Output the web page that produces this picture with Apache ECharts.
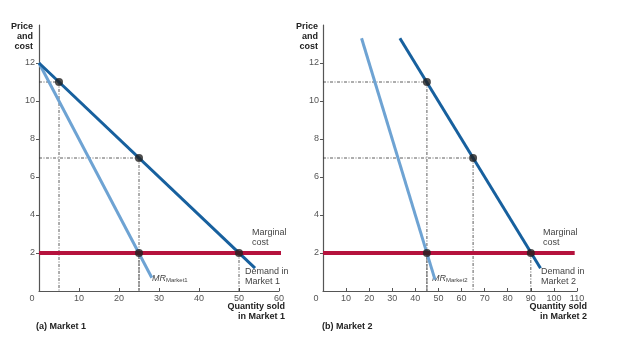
<!DOCTYPE html>
<html><head><meta charset="utf-8">
<script src="https://cdn.jsdelivr.net/npm/echarts@6/dist/echarts.min.js"></script>
<style>html,body{margin:0;padding:0;background:#fff}#c{width:624px;height:356px}</style>
</head><body><div id="c"></div>
<script>
// ---- data ----
const yTicks = [2, 4, 6, 8, 10, 12];
const x1Ticks = [0, 10, 20, 30, 40, 50, 60];
const x2Ticks = [0, 10, 20, 30, 40, 50, 60, 70, 80, 90, 100, 110];
const mcPrice = 2;
// Market 1
const demand1Q = [0, 54];
const demand1P = [12, 1.2];
const mr1Q = [0, 28.2];
const mr1P = [12, 0.7];
const mc1Q = [0, 61];
const eq1Q = [5, 25, 25, 50];
const eq1P = [11, 7, 2, 2];
// Market 2
const demand2Q = [33.3, 94.2];
const demand2P = [13.3, 1.2];
const mr2Q = [16.7, 48.5];
const mr2P = [13.3, 0.6];
const mc2Q = [0, 109];
const eq2Q = [45, 65, 45, 90];
const eq2P = [11, 7, 2, 2];

const FONT = '"Liberation Sans", Arial, sans-serif';
const C_DEM = '#17609e', C_MR = '#6ea3d3', C_MC = '#b5123d';

function pairs(q, p) { return q.map((v, i) => [v, p[i]]); }

function guides(q, p, gi) {
  const out = [];
  q.forEach((x, i) => {
    const y = p[i];
    out.push(mkGuide([[x, y], [x, 0]], gi));
    if (y > mcPrice) out.push(mkGuide([[0, y], [x, y]], gi));
  });
  return out;
}
function mkGuide(d, gi) {
  return { type: 'line', xAxisIndex: gi, yAxisIndex: gi, data: d, symbol: 'none', silent: true,
    lineStyle: { color: '#333', width: 0.8, type: [3, 1.5, 1, 1.5] }, z: 1 };
}
function lineS(q, p, color, w, gi, z) {
  return { type: 'line', xAxisIndex: gi, yAxisIndex: gi, data: pairs(q, p), symbol: 'none', clip: false,
    lineStyle: { color: color, width: w }, z: z };
}

function xAxis(gi, max, ticks) {
  return {
    type: 'value', gridIndex: gi, min: 0, max: max, interval: 10,
    axisLine: { lineStyle: { color: '#555', width: 1.2 } },
    axisTick: { inside: true, length: 3, lineStyle: { color: '#555' }, customValues: ticks.filter(v => v > 0) },
    splitLine: { show: false },
    axisLabel: {
      customValues: ticks, margin: 3, color: '#555', fontFamily: FONT, fontSize: 9,
      formatter: v => v === 0 ? '{z|0}' : String(v),
      rich: { z: { padding: [0, 14, 0, 0], color: '#555', fontFamily: FONT, fontSize: 9 } }
    }
  };
}
function yAxis(gi) {
  return {
    type: 'value', gridIndex: gi, min: 0, max: 14, interval: 2,
    axisLine: { show: true, lineStyle: { color: '#555', width: 1.2 } },
    axisTick: { show: true, length: 3, lineStyle: { color: '#555' }, customValues: yTicks },
    splitLine: { show: false },
    axisLabel: { customValues: yTicks, margin: 4, color: '#555', fontFamily: FONT, fontSize: 9 }
  };
}

function txt(x, y, text, opt) {
  return { type: 'text', x: x, y: y, silent: true,
    style: Object.assign({ text: text, fill: '#444', font: '9px ' + FONT, lineHeight: 10, verticalAlign: 'top' }, opt || {}) };
}
const BOLD = { font: 'bold 9px ' + FONT, fill: '#222' };
const BOLDR = { font: 'bold 9px ' + FONT, fill: '#222', align: 'right' };
const mrRich = {
  i: { font: 'italic 9px ' + FONT, fill: '#444' },
  s: { font: '6px ' + FONT, fill: '#444', padding: [4, 0, 0, 0] }
};

const chart = echarts.init(document.getElementById('c'), null, { renderer: 'canvas' });
chart.setOption({
  animation: false,
  grid: [
    { left: 39, top: 25, width: 240, height: 266 },
    { left: 323, top: 25, width: 254, height: 266 }
  ],
  xAxis: [xAxis(0, 60, x1Ticks), xAxis(1, 110, x2Ticks)],
  yAxis: [yAxis(0), yAxis(1)],
  series: [
    ...guides(eq1Q, eq1P, 0),
    ...guides(eq2Q, eq2P, 1),
    lineS(mr1Q, mr1P, C_MR, 3, 0, 3),
    lineS(demand1Q, demand1P, C_DEM, 3, 0, 4),
    lineS(mc1Q, [mcPrice, mcPrice], C_MC, 4, 0, 5),
    lineS(mr2Q, mr2P, C_MR, 3, 1, 3),
    lineS(demand2Q, demand2P, C_DEM, 3, 1, 4),
    lineS(mc2Q, [mcPrice, mcPrice], C_MC, 4, 1, 5),
    { type: 'scatter', xAxisIndex: 0, yAxisIndex: 0, data: pairs(eq1Q, eq1P), symbolSize: 8,
      itemStyle: { color: '#222' }, z: 10 },
    { type: 'scatter', xAxisIndex: 1, yAxisIndex: 1, data: pairs(eq2Q, eq2P), symbolSize: 8,
      itemStyle: { color: '#222' }, z: 10 }
  ],
  graphic: [
    txt(33, 22, 'Price\nand\ncost', BOLDR),
    txt(318, 22, 'Price\nand\ncost', BOLDR),
    txt(285, 302, 'Quantity sold\nin Market 1', BOLDR),
    txt(587, 302, 'Quantity sold\nin Market 2', BOLDR),
    txt(36, 322, '(a) Market 1', BOLD),
    txt(322, 322, '(b) Market 2', BOLD),
    txt(252, 228, 'Marginal\ncost'),
    txt(245, 267, 'Demand in\nMarket 1'),
    txt(543, 228, 'Marginal\ncost'),
    txt(541, 267, 'Demand in\nMarket 2'),
    txt(152, 273, '{i|MR}{s|Market1}', { rich: mrRich }),
    txt(432, 273, '{i|MR}{s|Market2}', { rich: mrRich })
  ]
});
</script></body></html>
